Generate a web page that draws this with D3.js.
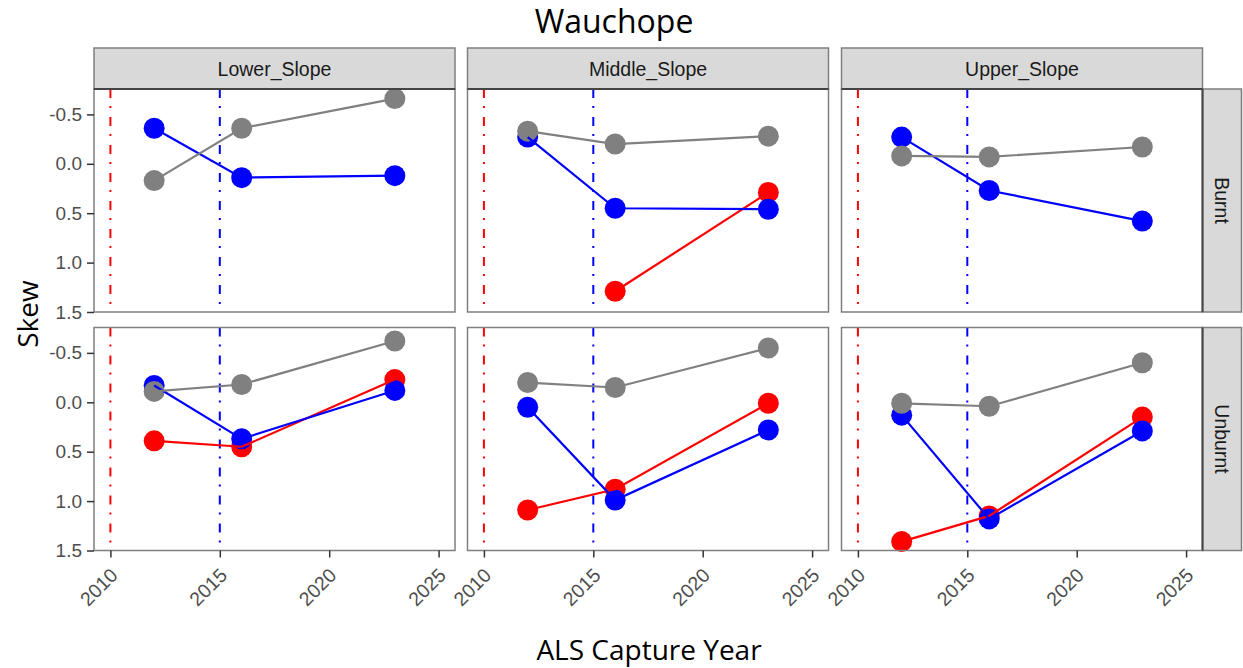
<!DOCTYPE html>
<html>
<head>
<meta charset="utf-8">
<script src="https://cdn.jsdelivr.net/npm/d3@7"></script>
<style>
  body { margin: 0; background: #fff; }
</style>
</head>
<body>
<div id="chart"></div>
<script>
// facets and data
var slopes = ["Lower_Slope", "Middle_Slope", "Upper_Slope"];
var conditions = ["Burnt", "Unburnt"];
var years = [2012, 2016, 2023];
var xTicks = [2010, 2015, 2020, 2025];
var yTicks = [-0.5, 0.0, 0.5, 1.0, 1.5];
var refLines = [{ year: 2010, color: "#ff0000" }, { year: 2015, color: "#0000ff" }];

// [condition][slope][year]
var redSkew = [
  [[null, null, null], [null, 1.29, 0.29], [null, null, null]],
  [[0.39, 0.45, -0.23], [1.09, 0.88, 0.01], [1.41, 1.15, 0.15]]
];
var blueSkew = [
  [[-0.36, 0.14, 0.12], [-0.27, 0.45, 0.46], [-0.27, 0.27, 0.58]],
  [[-0.17, 0.37, -0.12], [0.05, 0.99, 0.28], [0.13, 1.18, 0.29]]
];
var greySkew = [
  [[0.17, -0.36, -0.66], [-0.33, -0.20, -0.28], [-0.08, -0.07, -0.17]],
  [[-0.11, -0.18, -0.62], [-0.20, -0.15, -0.55], [0.01, 0.04, -0.40]]
];

var series = [
  { color: "#ff0000", values: redSkew },
  { color: "#0000ff", values: blueSkew },
  { color: "#808080", values: greySkew }
];

var width = 1243,
    height = 668;

var panelLeft = [94, 467.5, 841.5],
    panelW = 361,
    panelTop = [89, 327.5],
    panelH = 223,
    stripH = 41,
    rstripW = 39;

var sans = "'Liberation Sans', Arial, sans-serif",
    labelFont = "'Open Sans', 'Noto Sans', sans-serif";

var svg = d3.select("#chart")
    .append("svg")
    .attr("width", width)
    .attr("height", height)
    .style("font-family", sans);

svg.append("text")
    .attr("x", 614).attr("y", 33)
    .attr("text-anchor", "middle")
    .style("font-family", labelFont)
    .attr("font-size", 32)
    .attr("fill", "#000")
    .text("Wauchope");

// column strips
slopes.forEach(function(s, j) {
  svg.append("rect")
    .attr("x", panelLeft[j]).attr("y", panelTop[0] - stripH)
    .attr("width", panelW).attr("height", stripH)
    .attr("fill", "#d9d9d9").attr("stroke", "#7f7f7f").attr("stroke-width", 1.5);
  svg.append("text")
    .attr("x", panelLeft[j] + panelW / 2).attr("y", panelTop[0] - stripH / 2 + 7)
    .attr("text-anchor", "middle")
    .attr("font-size", 19.5).attr("fill", "#1a1a1a")
    .text(s);
});

conditions.forEach(function(c, i) {
  var top = panelTop[i];
  var y = d3.scaleLinear().domain([-0.757, 1.5]).range([top, top + panelH]);

  // row strip
  svg.append("rect")
    .attr("x", panelLeft[2] + panelW).attr("y", top)
    .attr("width", rstripW).attr("height", panelH)
    .attr("fill", "#d9d9d9").attr("stroke", "#7f7f7f").attr("stroke-width", 1.5);
  svg.append("text")
    .attr("transform", "translate(" + (panelLeft[2] + panelW + rstripW / 2 - 7) + "," + (top + panelH / 2) + ") rotate(90)")
    .attr("text-anchor", "middle")
    .attr("font-size", 19.5).attr("fill", "#1a1a1a")
    .text(c);

  slopes.forEach(function(s, j) {
    var left = panelLeft[j];
    var x = d3.scaleLinear().domain([2009.25, 2025.75]).range([left, left + panelW]);
    var g = svg.append("g");

    g.append("rect")
      .attr("x", left).attr("y", top)
      .attr("width", panelW).attr("height", panelH)
      .attr("fill", "#fff");

    g.selectAll(".vline")
      .data(refLines)
      .enter().append("line")
        .attr("x1", function(d) { return x(d.year); })
        .attr("x2", function(d) { return x(d.year); })
        .attr("y1", top).attr("y2", top + panelH)
        .attr("stroke", function(d) { return d.color; })
        .attr("stroke-width", 2)
        .attr("stroke-dasharray", "9,8,2,9");

    // points first, lines on top (as in the source figure)
    series.forEach(function(se) {
      var pts = years.map(function(yr, k) { return { year: yr, v: se.values[i][j][k] }; })
        .filter(function(d) { return d.v !== null; });
      g.selectAll(null)
        .data(pts)
        .enter().append("circle")
          .attr("cx", function(d) { return x(d.year); })
          .attr("cy", function(d) { return y(d.v); })
          .attr("r", 10.5)
          .attr("fill", se.color);
    });
    series.forEach(function(se) {
      var pts = years.map(function(yr, k) { return { year: yr, v: se.values[i][j][k] }; })
        .filter(function(d) { return d.v !== null; });
      g.append("path")
        .datum(pts)
        .attr("fill", "none")
        .attr("stroke", se.color)
        .attr("stroke-width", 2.2)
        .attr("d", d3.line().x(function(d) { return x(d.year); }).y(function(d) { return y(d.v); }));
    });

    g.append("rect")
      .attr("x", left).attr("y", top)
      .attr("width", panelW).attr("height", panelH)
      .attr("fill", "none").attr("stroke", "#7f7f7f").attr("stroke-width", 1.5);

    if (i === 0) {
      g.append("line")
        .attr("x1", left).attr("x2", left + panelW)
        .attr("y1", top).attr("y2", top)
        .attr("stroke", "#444").attr("stroke-width", 2);
    }
    if (j === 2) {
      g.append("line")
        .attr("x1", left + panelW).attr("x2", left + panelW)
        .attr("y1", top).attr("y2", top + panelH)
        .attr("stroke", "#444").attr("stroke-width", 2);
    }

    if (j === 0) {
      var ya = g.append("g")
        .attr("transform", "translate(" + left + ",0)")
        .call(d3.axisLeft(y).tickValues(yTicks).tickSize(7).tickPadding(5).tickFormat(d3.format(".1f")));
      ya.select(".domain").remove();
      ya.selectAll("line").attr("stroke", "#333").attr("stroke-width", 1.5);
      ya.selectAll("text")
        .attr("font-size", 19).attr("fill", "#4d4d4d")
        .style("font-family", sans)
        .text(function(d) { return d3.format(".1f")(d).replace("−", "-"); });
    }
    if (i === 1) {
      var xa = g.append("g")
        .attr("transform", "translate(0," + (top + panelH) + ")")
        .call(d3.axisBottom(x).tickValues(xTicks).tickSize(7).tickFormat(d3.format("d")));
      xa.select(".domain").remove();
      xa.selectAll("line").attr("stroke", "#333").attr("stroke-width", 1.5);
      xa.selectAll("text")
        .attr("font-size", 19.5).attr("fill", "#4d4d4d")
        .style("font-family", sans)
        .attr("text-anchor", "end")
        .attr("dy", 0)
        .attr("transform", "translate(8,26) rotate(-45)")
        .attr("x", 0).attr("y", 0);
    }
  });
});

svg.append("text")
  .attr("transform", "translate(38,314) rotate(-90)")
  .attr("text-anchor", "middle")
  .style("font-family", labelFont)
  .attr("font-size", 28)
  .attr("fill", "#000")
  .text("Skew");

svg.append("text")
  .attr("x", 649).attr("y", 660)
  .attr("text-anchor", "middle")
  .style("font-family", labelFont)
  .attr("font-size", 28)
  .attr("fill", "#000")
  .text("ALS Capture Year");
</script>
</body>
</html>
